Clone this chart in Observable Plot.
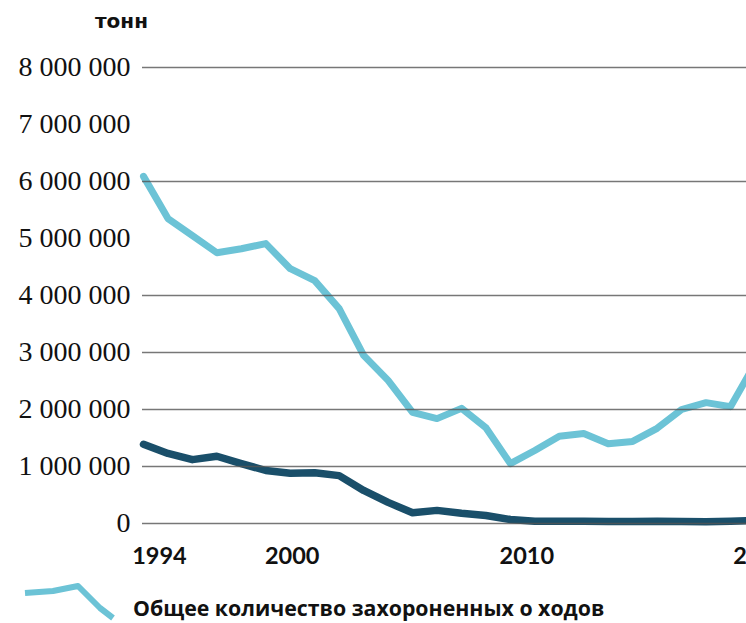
<!DOCTYPE html>
<html><head><meta charset="utf-8">
<script src="https://cdn.jsdelivr.net/npm/d3@7"></script>
<script src="https://cdn.jsdelivr.net/npm/@observablehq/plot@0.6"></script>
<style>
html,body{margin:0;padding:0;background:#fff;overflow:hidden;}
#wrap{position:relative;width:746px;height:623px;overflow:hidden;background:#fff;}
#chart{position:absolute;left:0;top:0;width:746px;height:580px;overflow:hidden;}
#chart svg{overflow:hidden;}
#unit{position:absolute;left:95px;top:9px;font:bold 20px "DejaVu Sans",sans-serif;color:#111;}
#legend{position:absolute;left:0;top:580px;}
g[aria-label="x-axis tick label"] text{font-weight:bold;}
</style></head><body>
<div id="wrap">
  <div id="chart"></div>
  <div id="unit"></div>
  <svg id="legend" width="746" height="43" xmlns="http://www.w3.org/2000/svg">
    <polyline points="25,13 53,11 78,6 100,28 113,38" fill="none" stroke="#6cc3d6" stroke-width="6" stroke-linejoin="round"/>
    <text id="legtext" x="133" y="36" font-family="Open Sans, sans-serif" font-weight="bold" font-size="21.3" fill="#111"></text>
  </svg>
</div>
<script>
const years = [1994,1995,1996,1997,1998,1999,2000,2001,2002,2003,2004,2005,2006,2007,2008,2009,2010,2011,2012,2013,2014,2015,2016,2017,2018,2019];
const totalLandfilled = [6090000,5350000,5050000,4750000,4820000,4910000,4470000,4260000,3770000,2950000,2510000,1950000,1840000,2020000,1680000,1050000,1280000,1530000,1580000,1400000,1440000,1670000,2000000,2120000,2050000,2800000];
const otherSeries = [1390000,1230000,1120000,1180000,1050000,930000,880000,890000,840000,580000,370000,190000,230000,180000,140000,70000,40000,40000,40000,35000,35000,40000,35000,30000,40000,50000];
const yTicks = [0,1000000,2000000,3000000,4000000,5000000,6000000,7000000,8000000];
const gridValues = [0,1000000,2000000,3000000,4000000,6000000,8000000];
const xTicks = [1994,2000,2010,2020];
const unitLabel = "тонн";
const legendLabel = "Общее количество захороненных о ходов";

// small horizontal nudges of the year labels, as placed in the original
const labelNudge = {1994: 16, 2000: 2, 2010: -8, 2020: -19};

document.getElementById("unit").textContent = unitLabel;
document.getElementById("legtext").textContent = legendLabel;

const data = years.map((year, i) => ({year, total: totalLandfilled[i], other: otherSeries[i]}));
const fmt = d => d3.format(",")(d).replace(/,/g, " ");

const chart = Plot.plot({
  width: 746,
  height: 580,
  marginLeft: 142,
  marginRight: 0,
  marginTop: 0,
  marginBottom: 57,
  style: {background: "#fff", color: "#111"},
  x: {domain: [1994, 2018], range: [143, 730]},
  y: {domain: [0, 8000000], range: [523, 67]},
  marks: [
    Plot.line(data, {x: "year", y: "total", stroke: "#6cc3d6", strokeWidth: 7, strokeLinejoin: "round"}),
    Plot.line(data, {x: "year", y: "other", stroke: "#1a4f6a", strokeWidth: 7.5, strokeLinejoin: "round"}),
    Plot.ruleY(gridValues, {stroke: "#555", strokeWidth: 1.5, strokeOpacity: 0.8}),
    Plot.axisY({ticks: yTicks, anchor: "left", tickSize: 0, tickPadding: 12, tickFormat: fmt,
      fontFamily: "Liberation Serif, serif", fontSize: 28, fill: "#111", label: null}),
    ...xTicks.map(t => Plot.axisX({ticks: [t], anchor: "bottom", tickSize: 0, tickPadding: 24, tickFormat: d => String(d),
      dx: labelNudge[t], fontFamily: "Lato, sans-serif", fontSize: 23.5, fontWeight: "bold", fill: "#111", label: null}))
  ]
});
document.getElementById("chart").appendChild(chart);
</script>
</body></html>
